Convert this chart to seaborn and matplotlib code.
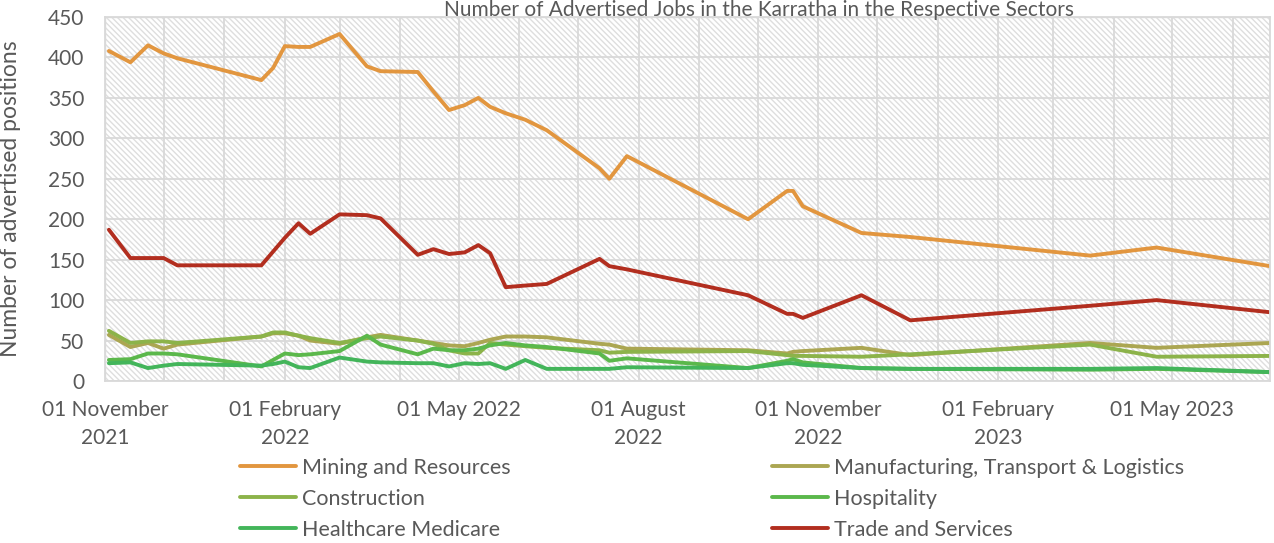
import matplotlib
matplotlib.use("Agg")
import matplotlib.pyplot as plt
import matplotlib.dates as mdates
import pandas as pd
import seaborn as sns
from matplotlib.patches import Rectangle
from matplotlib.ticker import FixedLocator

# survey dates
dates = ["2021-11-03", "2021-11-14", "2021-11-23", "2021-12-01", "2021-12-08",
         "2022-01-20", "2022-01-26", "2022-02-01", "2022-02-08", "2022-02-14",
         "2022-03-01", "2022-03-15", "2022-03-22", "2022-04-10", "2022-04-18",
         "2022-04-26", "2022-05-04", "2022-05-11", "2022-05-17", "2022-05-25",
         "2022-06-04", "2022-06-15", "2022-07-12", "2022-07-17", "2022-07-26",
         "2022-09-26", "2022-10-16", "2022-10-19", "2022-10-24", "2022-11-23",
         "2022-12-18", "2023-03-20", "2023-04-23", "2023-06-20"]

mining = [408, 394, 415, 405, 399, 372, 387, 414, 413, 413, 429, 389, 383, 382, 358,
          335, 341, 350, 339, 331, 323, 310, 263, 250, 278, 200, 235, 235, 216, 183,
          178, 155, 165, 142]
manufacturing = [57, 42, 47, 40, 45, 55, 59, 59, 56, 50, 46, 54, 57, 50, 47,
                 44, 43, 47, 51, 55, 55, 54, 46, 45, 40, 38, 34, 36, 37, 41,
                 32, 47, 41, 47]
construction = [62, 47, 49, 49, 47, 55, 60, 60, 56, 53, 47, 53, 55, 50, 46,
                38, 34, 34, 47, 45, 43, 41, 38, 35, 36, 37, 32, 31, 31, 30,
                33, 45, 30, 31]
hospitality = [26, 27, 34, 34, 33, 18, 26, 34, 32, 33, 37, 56, 45, 33, 40,
               38, 38, 40, 44, 47, 44, 42, 34, 25, 28, 16, 25, 27, 23, 16,
               15, 14, 15, 11]
healthcare = [22, 23, 16, 19, 21, 19, 21, 24, 17, 16, 29, 24, 23, 22, 22,
              18, 22, 21, 22, 15, 26, 15, 15, 15, 17, 16, 22, 22, 20, 16,
              15, 15, 16, 11]
trade = [187, 152, 152, 152, 143, 143, 160, 177, 195, 182, 206, 205, 201, 156, 163,
         157, 159, 168, 158, 116, 118, 120, 151, 142, 138, 106, 83, 83, 78, 106,
         75, 93, 100, 85]

sectors = ["Mining and Resources", "Manufacturing, Transport & Logistics",
           "Construction", "Hospitality", "Healthcare Medicare", "Trade and Services"]
colors = ["#E2963F", "#ABA652", "#8CB34A", "#5BB84B", "#43B55A", "#B22E1F"]

tick_dates = ["2021-11-01", "2022-02-01", "2022-05-01", "2022-08-01",
              "2022-11-01", "2023-02-01", "2023-05-01"]
tick_labels = ["01 November\n2021", "01 February\n2022", "01 May 2022",
               "01 August\n2022", "01 November\n2022", "01 February\n2023",
               "01 May 2023"]

wide = pd.DataFrame({"date": pd.to_datetime(dates)})
for name, vals in zip(sectors, [mining, manufacturing, construction,
                                hospitality, healthcare, trade]):
    wide[name] = vals
df = wide.melt(id_vars="date", var_name="sector", value_name="jobs")

sns.set_style("white")
plt.rcParams["font.family"] = ["Lato", "DejaVu Sans"]
plt.rcParams["hatch.linewidth"] = 1.0
grey = "#595959"
light = "#dedede"

fig = plt.figure(figsize=(12.74, 5.43), dpi=100)
ax = fig.add_axes([105 / 1274, 1 - 381 / 543, 1165 / 1274, 364 / 543])

# hatched plot area
ax.add_patch(Rectangle((0, 0), 1, 1, transform=ax.transAxes, facecolor="none",
                       edgecolor=light, hatch="\\" * 6, lw=1.0, zorder=0))

sns.lineplot(data=df, x="date", y="jobs", hue="sector", hue_order=sectors,
             palette=colors, lw=2.8, ax=ax, legend=True)

ax.set_xlim(pd.Timestamp("2021-11-01"), pd.Timestamp("2023-06-20"))
ax.set_ylim(0, 450)
ax.set_yticks(range(0, 451, 50))
ax.xaxis.set_major_locator(FixedLocator(mdates.date2num(pd.to_datetime(tick_dates))))
ax.xaxis.set_minor_locator(mdates.MonthLocator())
ax.set_xticklabels(tick_labels, multialignment="center", linespacing=1.45)

ax.set_axisbelow(True)
ax.grid(which="both", color="#d9d9d9", lw=1.3)
for s in ax.spines.values():
    s.set_color("#d9d9d9")
    s.set_linewidth(1.3)
ax.tick_params(axis="both", which="both", length=0, colors=grey, labelsize=15)
ax.tick_params(axis="y", pad=15)
ax.tick_params(axis="x", pad=14)

ax.set_xlabel("")
ax.set_ylabel("Number of advertised positions", fontsize=16.5, color=grey)
ax.yaxis.set_label_coords(-84 / 1165, 0.5)

fig.text(759 / 1274, 1.0, "Number of Advertised Jobs in the Karratha in the Respective Sectors",
         ha="center", va="top", fontsize=15, color=grey)

# legend in two separate columns
handles, labels = ax.get_legend_handles_labels()
ax.get_legend().remove()
lookup = dict(zip(labels, handles))
left_col = ["Mining and Resources", "Construction", "Healthcare Medicare"]
right_col = ["Manufacturing, Transport & Logistics", "Hospitality", "Trade and Services"]
for col, x0 in [(left_col, 240), (right_col, 772)]:
    leg = fig.legend([lookup[k] for k in col], col, loc="upper left",
                     bbox_to_anchor=(x0 / 1274, 1 - 458 / 543), frameon=False,
                     fontsize=15.5, handlelength=2.6, handletextpad=0.3,
                     labelspacing=0.5, borderpad=0, borderaxespad=0)
    for t in leg.get_texts():
        t.set_color(grey)

fig.savefig("out.png", dpi=100)
